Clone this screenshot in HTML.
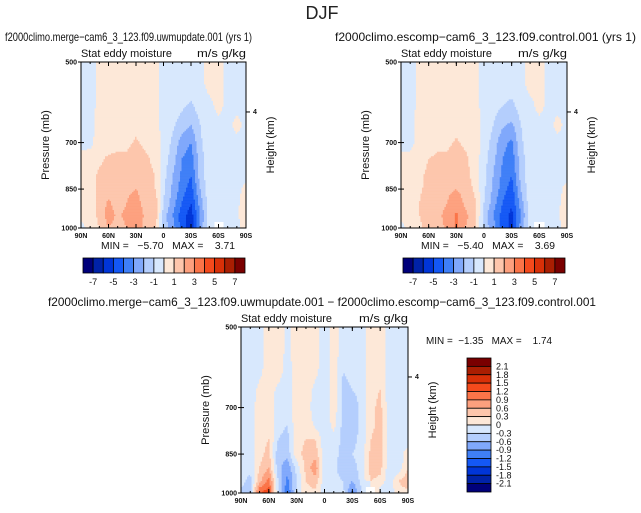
<!DOCTYPE html>
<html><head><meta charset="utf-8"><style>
body{margin:0;background:#fff}
svg{display:block;font-family:"Liberation Sans",sans-serif}
text{white-space:pre}
</style></head><body>
<svg id="c" width="641" height="513" viewBox="0 0 641 513">
<text x="322" y="19" font-size="18" text-anchor="middle" fill="#222">DJF</text>
</svg>
<script>
// ----- data -----
const lats = [90,80,70,60,50,40,30,20,10,0,-10,-20,-30,-40,-50,-60,-70,-80,-90];
const levels = [500,550,600,650,700,750,800,850,900,950,1000];
const absLevels = [-7,-6,-5,-4,-3,-2,-1,0,1,2,3,4,5,6,7];
const absTickLabels = ["-7","-5","-3","-1","1","3","5","7"];
const diffLevels = [-2.1,-1.8,-1.5,-1.2,-0.9,-0.6,-0.3,0,0.3,0.6,0.9,1.2,1.5,1.8,2.1];
const diffTickLabels = ["2.1","1.8","1.5","1.2","0.9","0.6","0.3","0","-0.3","-0.6","-0.9","-1.2","-1.5","-1.8","-2.1"];
const pressureTicks = [500,700,850,1000];
const latTickLabels = ["90N","60N","30N","0","30S","60S","90S"];
const test1 = [
[-.5,-.5,.3,.3,.3,.3,.3,.3,.3,-.3,-.3,-.3,-.3,-.3,.3,.3,-.3,-.3,-.3],
[-.5,-.5,.3,.3,.3,.3,.3,.3,.3,-.3,-.3,-.4,-.4,-.3,.3,.3,-.3,-.3,-.3],
[-.4,-.4,.3,.4,.4,.4,.5,.4,.3,-.3,-.5,-.8,-1.2,-.5,-.3,.3,-.3,-.3,-.3],
[-.3,-.3,.4,.5,.6,.6,.8,.6,.4,-.3,-.8,-1.5,-2,-1,-.3,-.3,-.3,.3,-.3],
[-.3,-.3,.5,.5,.8,.8,1.1,.8,.5,-.3,-1.2,-2.5,-3,-1.2,-.3,-.3,-.3,-.3,-.3],
[.3,.5,.8,1.2,1.2,1.2,1.5,1.2,.8,-.5,-1.5,-3,-3.5,-1.5,-.3,-.3,-.3,-.3,-.3],
[.3,.5,1.2,1.3,1.5,1.5,1.5,1.3,1,-.6,-2,-3.2,-4,-1.5,-.3,-.3,-.3,-.3,-.3],
[.3,.5,1.2,1.5,1.5,1.8,2,1.5,1.2,-.8,-2.2,-3.5,-4.5,-2,-.3,-.3,-.3,-.3,.3],
[.3,.5,1.3,2.2,1.5,2,2.5,1.5,2,-1,-2.5,-4,-5,-2.5,-.4,-.3,-.3,-.2,.5],
[.3,.4,1.3,2.5,1.8,2.3,3,1.8,2,-1.5,-3,-4.5,-5.5,-3,-.5,-.3,-.3,-.3,1],
[-.3,.3,1,2,1.5,2,2.8,1.5,1.5,-1.5,-2.5,-4.5,-5.6,-2.5,-.5,null,-.3,-.3,.5]];
const ctrl2 = [
[-.5,-.5,.3,.3,.3,.3,.3,.3,.3,-.3,-.3,-.3,-.3,-.3,.3,.3,-.3,-.3,-.3],
[-.5,-.5,.3,.3,.3,.3,.3,.3,.3,-.3,-.3,-.4,-.4,-.3,.3,.3,-.3,-.3,-.3],
[-.4,-.4,.3,.4,.4,.4,.5,.4,.3,-.3,-.6,-1,-1.3,-.5,-.3,.3,-.3,-.3,-.3],
[-.3,-.3,.4,.5,.6,.6,.8,.6,.4,-.3,-1,-1.8,-2.2,-1,-.3,-.3,-.3,.3,-.3],
[-.3,-.3,.4,.5,.8,.8,1.1,.8,.5,-.4,-1.4,-2.7,-3.2,-1.2,-.3,-.3,-.3,-.3,-.3],
[.3,.3,.6,1,1.2,1.2,1.5,1.2,.6,-.6,-1.7,-3,-3.6,-1.5,-.3,-.3,-.3,-.3,-.3],
[.3,.4,.8,1.2,1.5,1.5,1.6,1.3,.6,-.7,-2,-3.2,-4,-1.6,-.3,-.3,-.3,-.3,-.3],
[.3,.5,.9,1.2,1.6,1.8,2,1.6,.8,-.8,-2.2,-3.5,-4.5,-2,-.3,-.3,-.3,-.3,.3],
[.3,.4,1,1.5,1.6,2,2.6,1.8,1.2,-1,-2.5,-4,-4.9,-2.5,-.4,-.3,-.3,-.2,.5],
[.3,.4,1,1.6,1.8,2.3,3.2,2.2,1.5,-1.4,-3,-4.4,-5.3,-3,-.5,-.3,-.3,-.3,1],
[-.3,.3,.8,1.4,1.6,2.2,3.2,2,1.2,-1.4,-2.5,-4.4,-5.4,-2.5,-.5,null,-.3,-.3,.5]];
const diff3 = [
[-.2,-.2,-.2,.2,.2,-.1,.2,.2,.2,-.2,.2,-.2,-.2,-.2,.2,.2,-.2,-.2,-.2],
[-.2,-.2,-.2,.2,.2,-.1,.2,.2,.2,-.2,.2,-.2,-.2,-.2,.2,.2,-.2,-.2,-.2],
[-.2,-.2,-.1,.2,.2,-.2,.2,.2,.1,-.2,.2,-.3,-.2,-.2,.2,.2,-.2,-.2,-.2],
[-.2,-.2,.1,.2,-.1,-.2,.2,.2,-.1,-.2,.2,-.4,-.3,-.2,.2,.3,-.2,-.2,-.2],
[-.2,-.2,.2,.2,-.2,-.2,.2,.2,-.2,-.2,.2,-.4,-.5,-.2,.2,.4,-.2,-.2,-.2],
[-.2,-.2,.2,.2,-.2,-.3,.2,.3,-.1,-.2,.1,-.4,-.5,-.2,.2,.4,-.2,-.2,-.2],
[-.2,-.2,.2,.3,-.3,-.4,.2,.3,.3,-.2,-.1,-.4,-.4,-.2,.3,.5,-.2,-.2,-.2],
[-.2,-.2,.2,.4,-.5,-.5,.2,.4,.5,-.2,-.2,-.4,-.3,-.2,.4,.5,-.2,-.2,.2],
[-.2,-.2,.3,.6,-.5,-.8,-.2,.4,.8,-.2,-.2,-.5,-.4,-.2,.5,.4,-.2,-.2,.3],
[-.2,-.4,.5,1,-.3,-1,-.3,.3,.5,-.2,-.2,-.3,-.6,-.2,.3,.2,-.2,.3,.5],
[-.4,-.4,1.2,1.4,-.3,-1.2,-.2,.2,.2,-.2,-.2,-.2,-1,-.3,null,-.2,-.2,.2,.2]];
const colors = ["#00007a","#0022a8","#0035d8","#1458f5","#3f7ff7","#80a8fb","#b4cefd","#d8e8fd","#fde8d8","#fdc6ac","#fda07e","#fb7448","#f44a1c","#d83008","#aa1e02","#7a0000"];

const svg = document.getElementById('c');
const NS = 'http://www.w3.org/2000/svg';
function mk(tag, attrs, parent){const e=document.createElementNS(NS,tag);for(const k in attrs)e.setAttribute(k,attrs[k]);(parent||svg).appendChild(e);return e;}
function txt(x,y,s,size,anchor,parent,extra){const t=mk('text',Object.assign({x:x,y:y,'font-size':size,'text-anchor':anchor||'start',fill:'#111'},extra||{}),parent);t.textContent=s;return t;}
function colorOf(v,lv){if(v===null)return '#fff';let i=0;while(i<lv.length&&v>=lv[i])i++;return colors[i];}

function panel(px,py,w,h,data,lv,name){
  const g=mk('g',{});
  
  
  const lp0=Math.log(500),lp1=Math.log(1000);
  const yOf=p=>py+(Math.log(p)-lp0)/(lp1-lp0)*h;
  const n=Math.round(w/1.5), m=Math.round(h/1.5);
  const sw=w/n, sh=h/m;
  for(let j=0;j<m;j++){
    const yy=j*sh;
    const p=Math.exp(lp0+(yy+sh/2)/h*(lp1-lp0));
    let r=0;while(r<levels.length-2&&levels[r+1]<p)r++;
    const fy=Math.min(1,Math.max(0,(p-levels[r])/(levels[r+1]-levels[r])));
    let runStart=0, runCol=null;
    for(let i=0;i<=n;i++){
      let col=null;
      if(i<n){
        const xx=i*sw;
        const lat=90-(xx+sw/2)/w*180;
        let c=Math.min(lats.length-2,Math.floor((90-lat)/10));
        const fx=Math.min(1,Math.max(0,(90-lat)/10-c));
        const a=data[r][c],b=data[r][c+1],d=data[r+1][c],e=data[r+1][c+1];
        let v;
        if(a===null||b===null||d===null||e===null){
          const near=data[fy<.5?r:r+1][fx<.5?c:c+1];
          if(near===null){v=null;}else{const arr=[a,b,d,e].filter(q=>q!==null);v=arr.reduce((s,q)=>s+q,0)/arr.length;}
        } else v=(a*(1-fx)+b*fx)*(1-fy)+(d*(1-fx)+e*fx)*fy;
        col=colorOf(v,lv);
      }
      if(col!==runCol){
        if(runCol!==null) mk('rect',{x:px+runStart*sw,y:py+yy,width:(i-runStart)*sw+0.3,height:sh+0.3,fill:runCol},g);
        runCol=col; runStart=i;
      }
    }
  }
  const f=mk('rect',{x:px,y:py,width:w,height:h,fill:'none',stroke:'#000','stroke-width':1});
  
  
  const ax=mk('g',{});
  
  
  pressureTicks.forEach(p=>{const y=yOf(p);mk('line',{x1:px-3,y1:y,x2:px+3,y2:y,stroke:'#000'},ax);txt(px-4,y+2.5,String(p),7,'end',ax,{'font-weight':'bold'});});
  latTickLabels.forEach((s,i)=>{const x=px+i*w/6;mk('line',{x1:x,y1:py+h,x2:x,y2:py+h-4,stroke:'#000'},ax);mk('line',{x1:x,y1:py,x2:x,y2:py+4,stroke:'#000'},ax);txt(x,py+h+10,s,7,'middle',ax,{'font-weight':'bold'});});
  for(let i=0;i<=18;i++){const x=px+i*w/18;mk('line',{x1:x,y1:py+h,x2:x,y2:py+h-2,stroke:'#000'},ax);mk('line',{x1:x,y1:py,x2:x,y2:py+2,stroke:'#000'},ax);}
  const y4=yOf(616);mk('line',{x1:px+w,y1:y4,x2:px+w+4,y2:y4,stroke:'#000'},ax);txt(px+w+7,y4+2,'4',7,'start',ax,{'font-weight':'bold'});
  txt(px-32,py+h/2,'Pressure (mb)',11,'middle',ax,{transform:`rotate(-90 ${px-32} ${py+h/2})`});
  txt(px+w+28,py+h/2,'Height (km)',11,'middle',ax,{transform:`rotate(-90 ${px+w+28} ${py+h/2})`});
  txt(px,py-5,'Stat eddy moisture',11,'start',ax,{textLength:91,lengthAdjust:'spacingAndGlyphs'});
  txt(px+w,py-5,'m/s g/kg',11,'end',ax,{textLength:49,lengthAdjust:'spacingAndGlyphs'});
}
function hbar(x,y,w,h,name){
  const g=mk('g',{});
  
  
  const bw=w/16;
  colors.forEach((c,i)=>mk('rect',{x:x+i*bw,y:y,width:bw,height:h,fill:c,stroke:'#000','stroke-width':0.8},g));
  absTickLabels.forEach((s,i)=>txt(x+(1+2*i)*bw,y+h+12,s,9,'middle',g));
}
panel(81,62,165,166,test1,absLevels,'test-panel');
panel(401,62,166,166,ctrl2,absLevels,'control-panel');
panel(241,327,167,166,diff3,diffLevels,'diff-panel');
hbar(83,258,162,15,'test-colorbar');
hbar(403,258,162,15,'control-colorbar');
(function(){
  const g=mk('g',{});
  
  
  const x=467,y=358,w=24,H=134,bh=H/16;
  colors.slice().reverse().forEach((c,i)=>mk('rect',{x:x,y:y+i*bh,width:w,height:bh,fill:c,stroke:'#000','stroke-width':0.8},g));
  diffTickLabels.forEach((s,i)=>txt(x+w+5,y+(i+1)*bh+3,s,9,'start',g));
})();
txt(5,41,'f2000climo.merge\u2212cam6_3_123.f09.uwmupdate.001 (yrs 1)',12,'start',null,{textLength:247,lengthAdjust:'spacingAndGlyphs'});
txt(335,41,'f2000climo.escomp\u2212cam6_3_123.f09.control.001 (yrs 1)',12,'start',null,{textLength:301,lengthAdjust:'spacingAndGlyphs'});
txt(48,306,'f2000climo.merge\u2212cam6_3_123.f09.uwmupdate.001 \u2212 f2000climo.escomp\u2212cam6_3_123.f09.control.001',12,'start',null,{textLength:548,lengthAdjust:'spacingAndGlyphs'});
txt(101,249,'MIN =   \u22125.70   MAX =    3.71',10,'start',null,{textLength:134,lengthAdjust:'spacingAndGlyphs'});
txt(421,249,'MIN =   \u22125.40   MAX =    3.69',10,'start',null,{textLength:134,lengthAdjust:'spacingAndGlyphs'});
txt(426,344,'MIN =  \u22121.35   MAX =    1.74',10,'start',null,{textLength:126,lengthAdjust:'spacingAndGlyphs'});
</script>
</body></html>
